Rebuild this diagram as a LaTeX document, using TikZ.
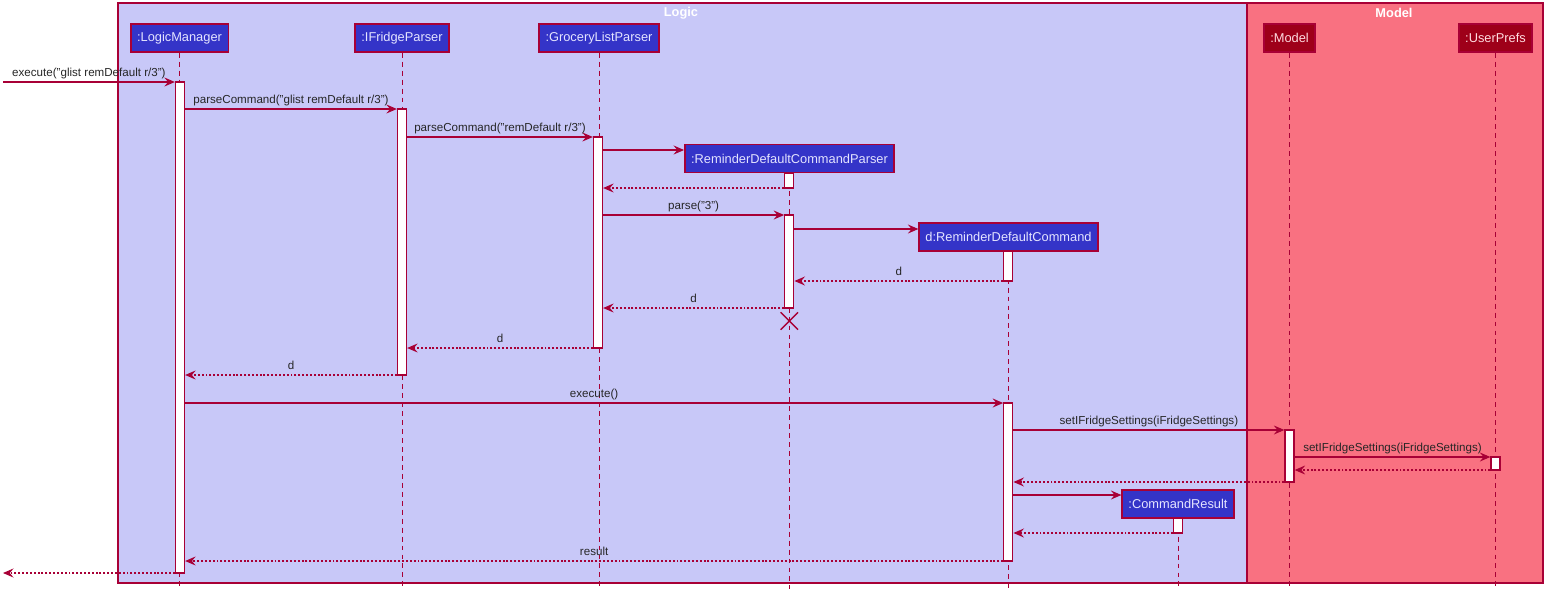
\documentclass[tikz,border=0pt]{standalone}
\usepackage{fontspec}
\setmainfont{Liberation Sans}
\usetikzlibrary{arrows.meta,fit,shapes.misc}
\definecolor{crim}{HTML}{A80036}
\definecolor{logicbg}{HTML}{C8C8F8}
\definecolor{modelbg}{HTML}{F97181}
\definecolor{pblue}{HTML}{3434C8}
\definecolor{pred}{HTML}{9E0019}
\definecolor{ptxtb}{HTML}{E4E4FF}
\definecolor{ptxtr}{HTML}{FFDCE0}
\begin{document}
\begin{tikzpicture}[x=0.02cm,y=-0.02cm,
  framebox/.style={draw=crim,line width=0.9pt,inner sep=0pt},
  ftitle/.style={text=white,font=\fontsize{7.3pt}{8pt}\selectfont\bfseries,inner sep=0pt},
  plog/.style={draw=crim,line width=0.85pt,fill=pblue,text=ptxtb,font=\fontsize{7.3pt}{8pt}\selectfont,inner xsep=3.6pt,inner ysep=0pt,minimum height=0.56cm},
  pmod/.style={plog,fill=pred,text=ptxtr},
  life/.style={draw=crim,line width=0.55pt,dash pattern=on 2.8pt off 2.3pt},
  act/.style={draw=crim,line width=0.75pt,fill=white,inner sep=0pt},
  msg/.style={draw=crim,line width=0.6pt,-{Stealth[length=2.1mm,width=1.8mm,inset=0.75mm]}},
  ret/.style={msg,dash pattern=on 1.1pt off 1.1pt},
  lbl/.style={anchor=base,yshift=2.9pt,inner sep=0pt,font=\fontsize{6.6pt}{7.5pt}\selectfont,text=black!85}
]
\useasboundingbox (0,0) rectangle (1552,599);
% frames
\node[framebox,fill=logicbg,fit={(118,3)(1247,583)}] (logic) {};
\node[framebox,fill=modelbg,fit={(1247,3)(1543,583)}] (model) {};
\node[ftitle] (logicT) at (681,13) {Logic};
\node[ftitle] (modelT) at (1394,13) {Model};
% participants
\node[plog] (lm) at (179.5,38) {:LogicManager};
\node[plog] (ifp) at (402,38) {:IFridgeParser};
\node[plog] (glp) at (599,38) {:GroceryListParser};
\node[plog] (rdcp) at (789.5,158.5) {:ReminderDefaultCommandParser};
\node[plog] (rdc) at (1008.5,237) {d:ReminderDefaultCommand};
\node[plog] (cr) at (1178,504) {:CommandResult};
\node[pmod] (mod) at (1289.5,38) {:Model};
\node[pmod] (up) at (1495.5,38) {:UserPrefs};
% lifelines
\foreach \p in {lm,ifp,glp,rdcp,rdc,cr,mod,up}{
  \draw[life] (\p.south) -- (\p.south |- 0,589);
}
% activation bars
\node[act,fit={(175.5,82)(184.5,573)}] (lmA) {};
\node[act,fit={(397.5,109)(406.5,375)}] (ifpA) {};
\node[act,fit={(593.5,137)(602.5,348)}] (glpA) {};
\node[act,fit={(784.8,173)(793.8,188)}] (rdcpA1) {};
\node[act,fit={(784.8,215)(793.8,308)}] (rdcpA2) {};
\node[act,fit={(1003.8,251)(1012.8,281)}] (rdcA1) {};
\node[act,fit={(1003.8,403)(1012.8,561)}] (rdcA2) {};
\node[act,fit={(1285,430)(1294,482)}] (modA) {};
\node[act,fit={(1491,457)(1500,470)}] (upA) {};
\node[act,fit={(1173.5,518)(1182.5,533)}] (crA) {};
% free ends
\coordinate (inL) at (3,82);
\coordinate (outL) at (3,573);
% messages
\draw[msg] (inL) -- node[lbl]{execute("glist remDefault r/3")} (lmA.west |- 0,82);
\draw[msg] (lmA.east |- 0,109) -- node[lbl]{parseCommand("glist remDefault r/3")} (ifpA.west |- 0,109);
\draw[msg] (ifpA.east |- 0,137) -- node[lbl]{parseCommand("remDefault r/3")} (glpA.west |- 0,137);
\draw[msg] (glpA.east |- 0,150) -- (rdcp.west |- 0,150);
\draw[ret] (rdcpA1.west |- 0,188) -- (glpA.east |- 0,188);
\draw[msg] (glpA.east |- 0,215) -- node[lbl]{parse("3")} (rdcpA2.west |- 0,215);
\draw[msg] (rdcpA2.east |- 0,229) -- (rdc.west |- 0,229);
\draw[ret] (rdcA1.west |- 0,281) -- node[lbl]{d} (rdcpA2.east |- 0,281);
\draw[ret] (rdcpA2.west |- 0,308) -- node[lbl]{d} (glpA.east |- 0,308);
\node[cross out,draw=crim,line width=0.8pt,minimum width=0.32cm,minimum height=0.32cm,inner sep=0pt] (destroy) at (789.3,321) {};
\draw[ret] (glpA.west |- 0,348) -- node[lbl]{d} (ifpA.east |- 0,348);
\draw[ret] (ifpA.west |- 0,375) -- node[lbl]{d} (lmA.east |- 0,375);
\draw[msg] (lmA.east |- 0,403) -- node[lbl]{execute()} (rdcA2.west |- 0,403);
\draw[msg] (rdcA2.east |- 0,430) -- node[lbl]{setIFridgeSettings(iFridgeSettings)} (modA.west |- 0,430);
\draw[msg] (modA.east |- 0,457) -- node[lbl]{setIFridgeSettings(iFridgeSettings)} (upA.west |- 0,457);
\draw[ret] (upA.west |- 0,470) -- (modA.east |- 0,470);
\draw[ret] (modA.west |- 0,482) -- (rdcA2.east |- 0,482);
\draw[msg] (rdcA2.east |- 0,495) -- (cr.west |- 0,495);
\draw[ret] (crA.west |- 0,533) -- (rdcA2.east |- 0,533);
\draw[ret] (rdcA2.west |- 0,561) -- node[lbl]{result} (lmA.east |- 0,561);
\draw[ret] (lmA.west |- 0,573) -- (outL);
\end{tikzpicture}
\end{document}
